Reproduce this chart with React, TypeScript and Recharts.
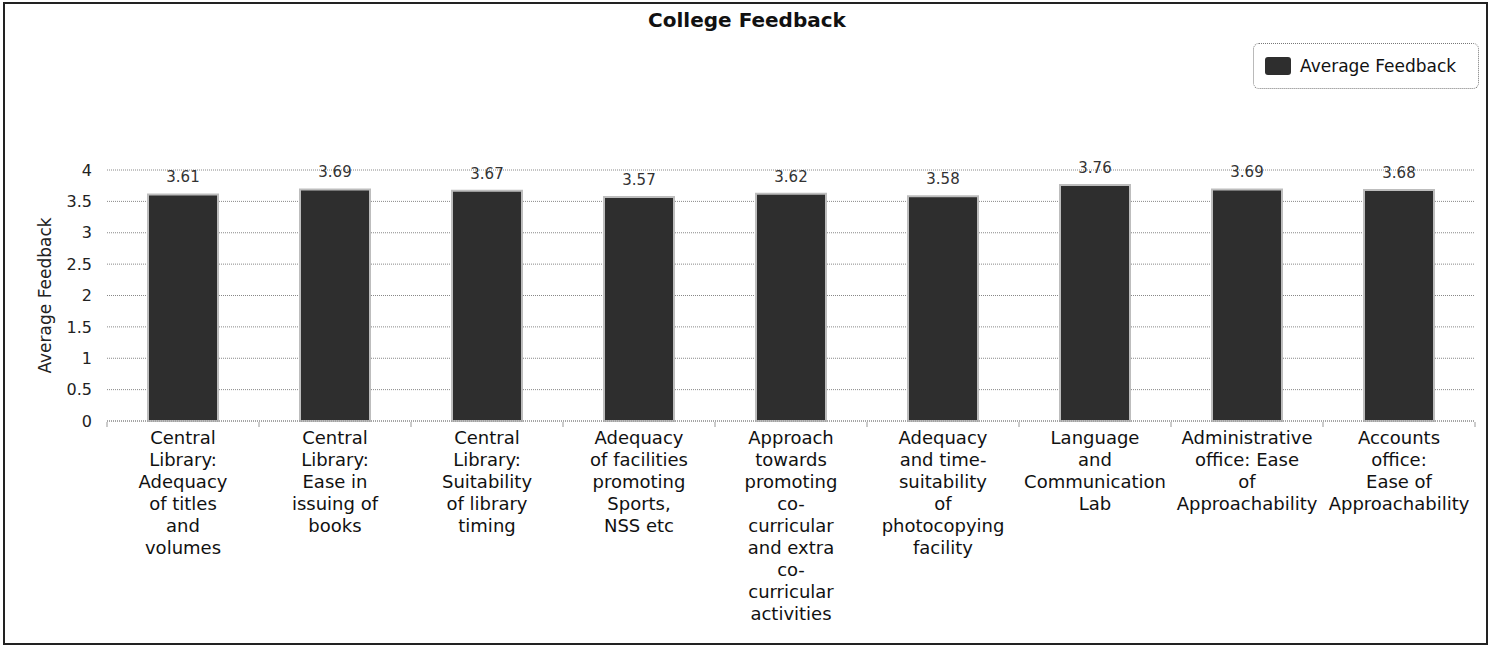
import { BarChart, Bar, XAxis, YAxis, CartesianGrid, LabelList } from "recharts"

const categories = [
  "Central Library: Adequacy of titles and volumes",
  "Central Library: Ease in issuing of books",
  "Central Library: Suitability of library timing",
  "Adequacy of facilities promoting Sports, NSS etc",
  "Approach towards promoting co-curricular and extra co-curricular activities",
  "Adequacy and time-suitability of photocopying facility",
  "Language and Communication Lab",
  "Administrative office: Ease of Approachability",
  "Accounts office: Ease of Approachability",
]

// wrapped tick labels, as they break in the picture
const tickLines = [
  ["Central", "Library:", "Adequacy", "of titles", "and", "volumes"],
  ["Central", "Library:", "Ease in", "issuing of", "books"],
  ["Central", "Library:", "Suitability", "of library", "timing"],
  ["Adequacy", "of facilities", "promoting", "Sports,", "NSS etc"],
  ["Approach", "towards", "promoting", "co-", "curricular", "and extra", "co-", "curricular", "activities"],
  ["Adequacy", "and time-", "suitability", "of", "photocopying", "facility"],
  ["Language", "and", "Communication", "Lab"],
  ["Administrative", "office: Ease", "of", "Approachability"],
  ["Accounts", "office:", "Ease of", "Approachability"],
]

const feedback = [3.61, 3.69, 3.67, 3.57, 3.62, 3.58, 3.76, 3.69, 3.68]

const yTicks = [0, 0.5, 1, 1.5, 2, 2.5, 3, 3.5, 4]

const data = categories.map((name, i) => ({ name, value: feedback[i] }))

const FONT = "'DejaVu Sans', Verdana, sans-serif"

const CategoryTick = ({ x, y, payload }: any) => {
  const lines = tickLines[payload.index] || []
  const half = payload.offset || 0
  const last = payload.index === tickLines.length - 1
  return (
    <g>
      <line x1={x - half} x2={x - half} y1={y - 7} y2={y - 2} stroke="#999" />
      {last && <line x1={x + half} x2={x + half} y1={y - 7} y2={y - 2} stroke="#999" />}
      <text x={x} y={y} textAnchor="middle" fontFamily={FONT} fontSize={18} fill="#111">
        {lines.map((l, i) => (
          <tspan key={i} x={x} dy={i === 0 ? 15 : 22}>
            {l}
          </tspan>
        ))}
      </text>
    </g>
  )
}

export default function App() {
  return (
    <div
      style={{
        position: "fixed",
        left: 0,
        top: 0,
        width: 1494,
        height: 650,
        background: "#fff",
        overflow: "hidden",
      }}
    >
      <div
        style={{
          position: "absolute",
          left: 0,
          width: 1494,
          top: 8,
          textAlign: "center",
          fontFamily: FONT,
          fontWeight: "bold",
          fontSize: 20,
          color: "#111",
        }}
      >
        College Feedback
      </div>
      <div style={{ position: "absolute", left: 0, top: 0 }}>
        <BarChart width={1494} height={650} data={data} margin={{ top: 170, right: 19, bottom: 0, left: 0 }}>
          <CartesianGrid vertical={false} stroke="#888" strokeDasharray="1 1" />
          <XAxis
            dataKey="name"
            interval={0}
            height={229}
            tick={<CategoryTick />}
            tickLine={false}
            axisLine={{ stroke: "#888", strokeDasharray: "1 1" }}
          />
          <YAxis
            domain={[0, 4]}
            ticks={yTicks}
            width={107}
            axisLine={false}
            tickLine={false}
            tickMargin={9}
            tick={{ fontFamily: FONT, fontSize: 16, fill: "#222" }}
            label={{
              value: "Average Feedback",
              angle: -90,
              position: "insideLeft",
              offset: 45,
              style: { fontFamily: FONT, fontSize: 17, fill: "#222", textAnchor: "middle" },
            }}
          />
          <Bar dataKey="value" fill="#2e2e2e" stroke="#bdbdbd" strokeWidth={2} barSize={70} isAnimationActive={false}>
            <LabelList dataKey="value" position="top" offset={12} style={{ fontFamily: FONT, fontSize: 15, fill: "#333" }} />
          </Bar>
        </BarChart>
      </div>
      <div
        style={{
          position: "absolute",
          left: 1253,
          top: 43,
          width: 224,
          height: 44,
          border: "1px dotted #777",
          borderRadius: 6,
          display: "flex",
          alignItems: "center",
          fontFamily: FONT,
          fontSize: 17,
          color: "#111",
          background: "#fff",
          whiteSpace: "nowrap",
        }}
      >
        <span style={{ display: "inline-block", width: 26, height: 18, background: "#2e2e2e", borderRadius: 3, marginLeft: 11, marginRight: 9 }} />
        Average Feedback
      </div>
      <div
        style={{
          position: "absolute",
          left: 3,
          top: 2,
          width: 1485,
          height: 643,
          boxSizing: "border-box",
          border: "2px solid #222",
          pointerEvents: "none",
          zIndex: 5,
        }}
      />
    </div>
  )
}
